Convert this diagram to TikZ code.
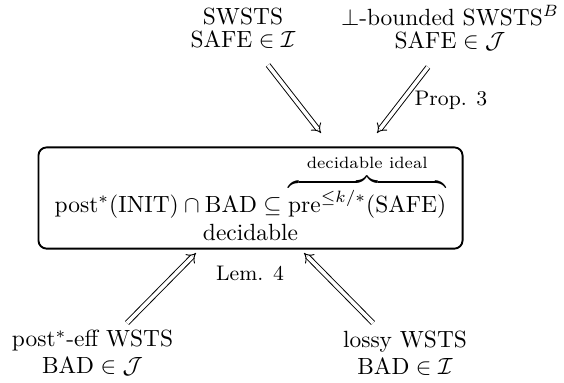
\documentclass[tikz,border=0pt]{standalone}
\usepackage{amsmath,amssymb}
\usetikzlibrary{arrows.meta}
\begin{document}
\begin{tikzpicture}[x=0.15mm,y=-0.15mm,
        imp/.style={double,double equal sign distance,-Implies},
        lbl/.style={font=\small}]
        \useasboundingbox (0,0) rectangle (564,382);
        % sources on top
        \node[align=center] (swsts) at (243,28) {SWSTS\\[-2pt]$\mathrm{SAFE}\in\mathcal{I}$};
        \node[align=center] (bswsts) at (450,28) {$\perp$-bounded SWSTS$^B$\\[-2pt]$\mathrm{SAFE}\in\mathcal{J}$};
        % the goal
        \node[draw,thick,rounded corners=3.5pt,align=center,minimum width=181pt,minimum height=42.8pt] (goal) at (250.5,198)
            {$\mathrm{post}^*(\mathrm{INIT})\cap\mathrm{BAD}\subseteq\overbrace{\mathrm{pre}^{\le k/*}(\mathrm{SAFE})}^{\text{decidable ideal}}$\\ decidable};
        % sources below
        \node[align=center] (eff) at (92.5,353) {post$^*$-eff WSTS\\[-0.7pt]$\mathrm{BAD}\in\mathcal{J}$};
        \node[align=center] (lossy) at (405,353) {lossy WSTS\\[-0.7pt]$\mathrm{BAD}\in\mathcal{I}$};
        % arrow ends
        \coordinate (a1s) at (268,65);  \coordinate (a1t) at (321,133);
        \coordinate (a2s) at (428,67);  \coordinate (a2t) at (377,133);
        \coordinate (b1s) at (127,323); \coordinate (b1t) at (196,253);
        \coordinate (b2s) at (373,323); \coordinate (b2t) at (304,253);
        \draw[imp] (a1s) -- (a1t);
        \draw[imp] (a2s) -- (a2t);
        \draw[imp] (b1s) -- (b1t);
        \draw[imp] (b2s) -- (b2t);
        \node[lbl] (prop) at (451,100) {Prop. 3};
        \node[lbl] (lem) at (250,273) {Lem. 4};
    \end{tikzpicture}
\end{document}
